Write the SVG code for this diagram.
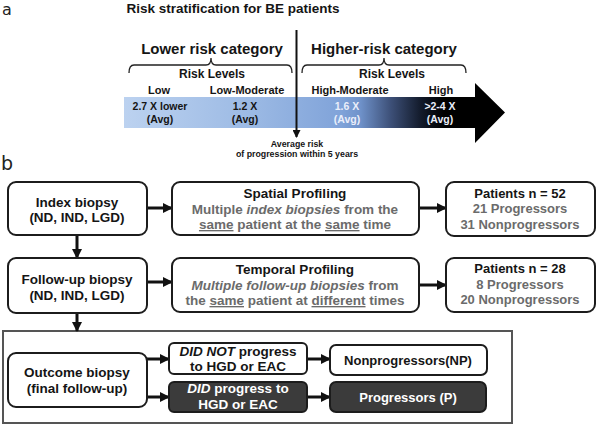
<svg xmlns="http://www.w3.org/2000/svg" width="598" height="425" viewBox="0 0 598 425">
<style>
text{font-family:"Liberation Sans",Arial,sans-serif;font-weight:bold;fill:#151515;text-anchor:middle}
.lbl{font-family:"DejaVu Sans","Liberation Sans",sans-serif;font-weight:normal;text-anchor:start;fill:#222}
.box{fill:#fff;stroke:#1c1c1c;stroke-width:2}
.dark{fill:#3b3b3b;stroke:#1c1c1c;stroke-width:2}
.g{fill:#6b6b6b}
.w{fill:#fff}
.lw{fill:#eaeefa}
.it{font-style:italic}
.u{text-decoration:underline}
.conn line{stroke:#111;stroke-width:3;marker-end:url(#ah)}
.brace{fill:none;stroke:#222;stroke-width:1.3}
</style>
<defs>
<marker id="ah" markerWidth="10" markerHeight="10" refX="9" refY="5" orient="auto" markerUnits="userSpaceOnUse" viewBox="0 0 10 10">
<path d="M0,0 L10,5 L0,10 Z" fill="#111"/>
</marker>
<marker id="ah2" markerWidth="8" markerHeight="8" refX="7" refY="4" orient="auto" markerUnits="userSpaceOnUse" viewBox="0 0 8 8">
<path d="M0,0 L8,4 L0,8 Z" fill="#111"/>
</marker>
<linearGradient id="bar" gradientUnits="userSpaceOnUse" x1="124" y1="0" x2="505" y2="0">
<stop offset="0" stop-color="#bcd2f0"/>
<stop offset="0.33" stop-color="#9cbae4"/>
<stop offset="0.57" stop-color="#80a3d9"/>
<stop offset="0.62" stop-color="#6f92ca"/>
<stop offset="0.70" stop-color="#3d5078"/>
<stop offset="0.78" stop-color="#121a2a"/>
<stop offset="0.84" stop-color="#000"/>
<stop offset="1" stop-color="#000"/>
</linearGradient>
</defs>

<!-- Panel a -->
<text class="lbl" x="2" y="15" font-size="16">a</text>
<text x="233" y="13" font-size="13.5">Risk stratification for BE patients</text>
<polygon points="124,97 475,97 475,83 505,112.5 475,143 475,128 124,128" fill="url(#bar)"/>
<text x="212" y="54" font-size="15">Lower risk category</text>
<text x="384" y="54" font-size="15">Higher-risk category</text>
<path class="brace" d="M129,73 Q129,65 134,65 L206,65 Q211,65 211,58 Q211,65 216,65 L287,65 Q292,65 292,73"/>
<path class="brace" d="M302,73 Q302,65 307,65 L379,65 Q384,65 384,58 Q384,65 389,65 L461,65 Q466,65 466,73"/>
<text x="212" y="78" font-size="12">Risk Levels</text>
<text x="392" y="78" font-size="12">Risk Levels</text>
<text x="159" y="94" font-size="11">Low</text>
<text x="247" y="94" font-size="11">Low-Moderate</text>
<text x="350" y="94" font-size="11">High-Moderate</text>
<text x="441" y="94" font-size="11">High</text>
<text x="160" y="110" font-size="10.5">2.7 X lower</text>
<text x="160" y="123" font-size="10.5">(Avg)</text>
<text x="245" y="110" font-size="10.5">1.2 X</text>
<text x="245" y="123" font-size="10.5">(Avg)</text>
<text x="347" y="110" font-size="10.5" class="lw">1.6 X</text>
<text x="347" y="123" font-size="10.5" class="lw">(Avg)</text>
<text x="440" y="110" font-size="10.5" class="lw">&gt;2-4 X</text>
<text x="440" y="123" font-size="10.5" class="lw">(Avg)</text>
<line x1="296.5" y1="30" x2="296.5" y2="137" stroke="#111" stroke-width="2" marker-end="url(#ah2)"/>
<text x="297" y="147" font-size="8.8">Average risk</text>
<text x="297" y="157" font-size="8.8">of progression within 5 years</text>

<!-- Panel b -->
<text class="lbl" x="1" y="170" font-size="19">b</text>
<rect x="3" y="331" width="509" height="92" fill="none" stroke="#555" stroke-width="2"/>

<g class="conn">
<line x1="147" y1="208" x2="172" y2="208"/>
<line x1="419" y1="208" x2="446" y2="208"/>
<line x1="77" y1="235" x2="77" y2="258"/>
<line x1="147" y1="282" x2="172" y2="282"/>
<line x1="419" y1="285" x2="446" y2="285"/>
<line x1="77" y1="313" x2="77" y2="331"/>
<line x1="147" y1="359" x2="169" y2="359"/>
<line x1="147" y1="397" x2="169" y2="397"/>
<line x1="307" y1="359" x2="330" y2="359"/>
<line x1="307" y1="397" x2="330" y2="397"/>
</g>

<g id="index">
<rect class="box" x="8" y="182" width="139" height="53" rx="8"/>
<text x="77" y="207" font-size="13.5">Index biopsy</text>
<text x="77" y="222" font-size="13.5">(ND, IND, LGD)</text>
</g>
<g id="spatial">
<rect class="box" x="172" y="182" width="247" height="53" rx="8"/>
<text x="295" y="198" font-size="13.5">Spatial Profiling</text>
<text x="295" y="213.5" font-size="13.5" class="g">Multiple <tspan class="it">index biopsies</tspan> from the</text>
<text x="295" y="229" font-size="13.5" class="g"><tspan class="u">same</tspan> patient at the <tspan class="u">same</tspan> time</text>
</g>
<g id="patients52">
<rect class="box" x="446" y="182" width="149" height="54" rx="8"/>
<text x="520" y="197.5" font-size="13">Patients n = 52</text>
<text x="520" y="213" font-size="13" class="g">21 Progressors</text>
<text x="520" y="228.5" font-size="13" class="g">31 Nonprogressors</text>
</g>
<g id="followup">
<rect class="box" x="8" y="258" width="139" height="55" rx="8"/>
<text x="77" y="284" font-size="13.5">Follow-up biopsy</text>
<text x="77" y="299.5" font-size="13.5">(ND, IND, LGD)</text>
</g>
<g id="temporal">
<rect class="box" x="172" y="258" width="247" height="54" rx="8"/>
<text x="295" y="273.5" font-size="13.5">Temporal Profiling</text>
<text x="295" y="289.5" font-size="13.5" class="g"><tspan class="it">Multiple follow-up biopsies</tspan> from</text>
<text x="295" y="305" font-size="13.5" class="g">the <tspan class="u">same</tspan> patient at <tspan class="u">different</tspan> times</text>
</g>
<g id="patients28">
<rect class="box" x="446" y="258" width="149" height="54" rx="8"/>
<text x="520" y="273" font-size="13">Patients n = 28</text>
<text x="520" y="288.5" font-size="13" class="g">8 Progressors</text>
<text x="520" y="304" font-size="13" class="g">20 Nonprogressors</text>
</g>
<g id="outcome">
<rect class="box" x="8" y="353" width="139" height="54" rx="8"/>
<text x="77" y="377" font-size="13.5">Outcome biopsy</text>
<text x="77" y="392.5" font-size="13.5">(final follow-up)</text>
</g>
<g id="didnot">
<rect class="box" x="169" y="343" width="138" height="31" rx="5"/>
<text x="238" y="356" font-size="13.5"><tspan class="it">DID NOT</tspan> progress</text>
<text x="238" y="371" font-size="13.5">to HGD or EAC</text>
</g>
<g id="did">
<rect class="dark" x="169" y="382" width="138" height="30" rx="5"/>
<text x="238" y="393" font-size="13.5" class="w"><tspan class="it">DID</tspan> progress to</text>
<text x="238" y="409" font-size="13.5" class="w">HGD or EAC</text>
</g>
<g id="np">
<rect class="box" x="330" y="345" width="157" height="30" rx="6"/>
<text x="408" y="365" font-size="13">Nonprogressors(NP)</text>
</g>
<g id="p">
<rect class="dark" x="330" y="382" width="156" height="30" rx="6"/>
<text x="408" y="402" font-size="13" class="w">Progressors (P)</text>
</g>
</svg>
